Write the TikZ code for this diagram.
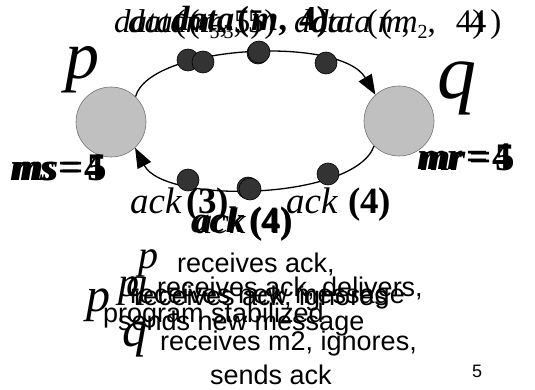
\documentclass[tikz,border=0pt]{standalone}
\usepackage{fontspec}
\setmainfont{Liberation Serif}
\newfontfamily\sansf{Liberation Sans}
\usetikzlibrary{arrows.meta}
\definecolor{dotc}{HTML}{333333}
\definecolor{nodec}{HTML}{C0C0C0}
\newcommand{\msub}[1]{\raisebox{-6pt}{\fontsize{20}{20}\selectfont #1}}
\newcommand{\dlab}[2]{\textit{data}\hspace{2pt}(\textit{m}#1,\hspace{6pt}#2)}
\newcommand{\blab}[1]{\textbf{\textit{data}}\hspace{3pt}\textbf{(}\hspace{2pt}\textbf{\textit{m}}\textbf{,}\hspace{12pt}\textbf{#1}\textbf{)}}
\begin{document}
\begin{tikzpicture}[x=1pt,y=-1pt,
  proc/.style={circle, fill=nodec, draw=black!55, line width=0.6pt, minimum size=70pt, inner sep=0},
  msg/.style={circle, fill=dotc, draw=black, line width=0.6pt, minimum size=22pt, inner sep=0},
  chan/.style={line width=1.3pt, -{Triangle[length=20pt,width=15pt]}},
  lab/.style={inner sep=0, anchor=base west},
  dfont/.style={font=\fontsize{33}{35}\selectfont},
  bfont/.style={font=\fontsize{35}{37}\selectfont},
  afont/.style={font=\fontsize{37}{39}\selectfont},
  vfont/.style={font=\fontsize{39}{41}\selectfont\bfseries},
  tfont/.style={font=\sansf\fontsize{27}{29}\selectfont},
  ifont/.style={font=\fontsize{#1}{#1}\selectfont\itshape}]
\useasboundingbox (0,0) rectangle (535,390);
% processes
\node[proc] (p) at (111,122) {};
\node[proc] (q) at (399,121) {};
\node[lab, ifont=68] (pl) at (65,79) {p};
\node[lab, ifont=78] (ql) at (437,99) {q};
% channels
\draw[chan] (p.46) .. controls (150,45) and (340,35) .. (q.132);
\draw[chan] (q.225) .. controls (355,200) and (165,205) .. (p.313);
% messages on upper channel
\node[msg] (u1) at (188,60) {};
\node[msg] (u2) at (203,62) {};
\node[msg] (u3) at (258,53) {};
\node[msg] (u3b) at (259,52) {};
\node[msg] (u4) at (326,63) {};
% messages on lower channel
\node[msg] (l1) at (188,180) {};
\node[msg] (l2) at (248,188) {};
\node[msg] (l2b) at (250,189) {};
\node[msg] (l3) at (328,174) {};
% data labels
\node[lab, dfont] (t1) at (114,33) {\dlab{\msub{5}}{5}};
\node[lab, dfont] (t2) at (128,33) {\dlab{\msub{3}}{5}};
\node[lab, bfont] (t3) at (172,31) {\blab{4}};
\node[lab, dfont] (t4) at (294,33) {\textit{data}\hspace{14pt}(\textit{m},\hspace{46pt}4)};
\node[lab, dfont] (t5) at (312,33) {\textit{data}\hspace{10pt}(\hspace{2pt}\textit{m}\msub{2},\hspace{34pt}4\hspace{4pt})};
% ms / mr
\node[lab, vfont] (ms1) at (10,181) {\textit{ms}\hspace{3pt}=\hspace{4pt}4};
\node[lab, vfont] (ms2) at (13,181) {\textit{ms}\hspace{3pt}=\hspace{4pt}5};
\node[lab, vfont] (mr1) at (417,170) {\textit{mr}\hspace{3pt}=\hspace{4pt}4};
\node[lab, vfont] (mr2) at (420,171) {\textit{mr}\hspace{3pt}=\hspace{4pt}5};
% ack labels
\node[lab, afont] (a1) at (130,214) {\textit{ack}\hspace{4pt}\textbf{(3)}};
\node[lab, afont] (a2) at (191,232) {\textbf{\textit{ack}}\hspace{5pt}\textbf{(4)}};
\node[lab, afont] (a2b) at (194,233) {\textit{ack}\hspace{4pt}\textbf{(4)}};
\node[lab, afont] (a3) at (286,214) {\textit{ack}\hspace{10pt}\textbf{(4)}};
% bottom text
\node[lab, ifont=40] (b1p) at (138,268) {p};
\node[lab, tfont] (b1) at (177,272) {receives ack,};
\node[lab, ifont=42] (b2p) at (118,296) {p};
\node[lab, ifont=42] (b2q) at (126,296) {q};
\node[lab, tfont] (b2) at (157,296) {receives ack, delivers,};
\node[lab, tfont] (b3) at (130,303) {receives new message};
\node[lab, tfont] (b4) at (134,305) {receives ack, ignores};
\node[lab, ifont=48] (b5p) at (86,311) {p};
\node[lab, tfont] (b5) at (103,322) {program stabilized};
\node[lab, tfont] (b6) at (118,330) {sends new message};
\node[lab, ifont=50] (b7q) at (122,346) {q};
\node[lab, tfont] (b7) at (160,350) {receives m2, ignores,};
\node[lab, tfont] (b8) at (210,384) {sends ack};
\node[lab, font=\sansf\fontsize{18}{18}\selectfont] (pg) at (472,377) {5};
\end{tikzpicture}
\end{document}
